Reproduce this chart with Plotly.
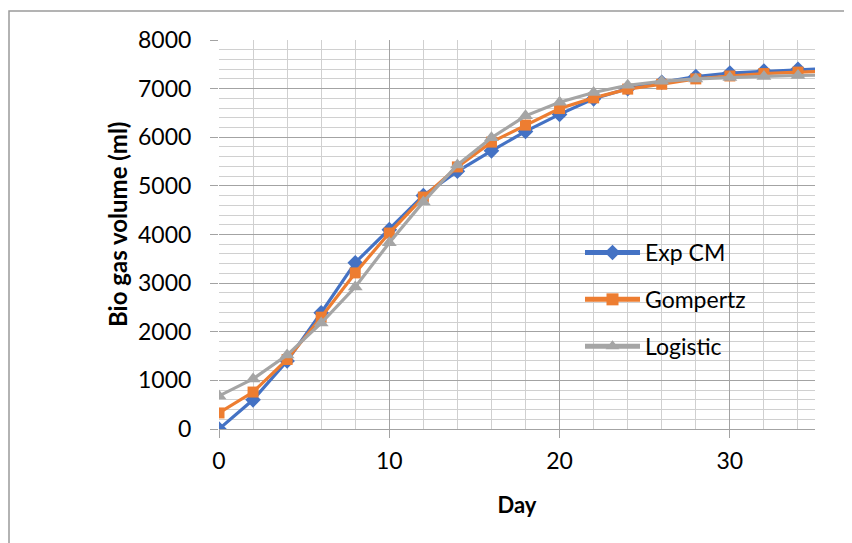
import plotly.graph_objects as go

days = [0, 2, 4, 6, 8, 10, 12, 14, 16, 18, 20, 22, 24, 26, 28, 30, 32, 34, 36]
exp_cm = [0, 600, 1400, 2390, 3420, 4100, 4800, 5300, 5720, 6120, 6470, 6790, 7000, 7130, 7250, 7320, 7360, 7400, 7420]
gompertz = [330, 760, 1430, 2300, 3210, 4030, 4770, 5390, 5900, 6250, 6590, 6810, 6990, 7090, 7200, 7260, 7310, 7340, 7360]
logistic = [680, 1030, 1520, 2180, 2920, 3830, 4670, 5430, 5990, 6440, 6720, 6920, 7070, 7150, 7200, 7230, 7250, 7270, 7280]

FONT = "Lato"
FS = 23

# plot area in figure pixels (page has an 8px body offset)
L, T, W, H = 211, 32, 596, 389
FIG_W, FIG_H = 852, 543

fig = go.Figure()
fig.add_trace(go.Scatter(x=days, y=exp_cm, name="Exp CM", mode="lines+markers", legendgroup="a",
                         line=dict(color="#4472C4", width=3.2),
                         marker=dict(symbol="diamond", size=12, color="#4472C4")))
fig.add_trace(go.Scatter(x=days, y=gompertz, name="Gompertz", mode="lines+markers", legendgroup="b",
                         line=dict(color="#ED7D31", width=3.2),
                         marker=dict(symbol="square", size=11, color="#ED7D31")))
fig.add_trace(go.Scatter(x=days, y=logistic, name="Logistic", mode="lines+markers", legendgroup="c",
                         line=dict(color="#A5A5A5", width=3.2),
                         marker=dict(symbol="triangle-up", size=13, color="#A5A5A5")))

fig.update_layout(
    width=FIG_W, height=FIG_H,
    margin=dict(l=L, r=FIG_W - L - W, t=T, b=FIG_H - T - H),
    paper_bgcolor="white", plot_bgcolor="white",
    font=dict(family=FONT, size=FS, color="black"),
    showlegend=True,
    legend=dict(x=(585 - 8 - L - 5) / W, y=1 - (245 - 8 - T - 14) / H, xanchor="left", yanchor="top",
                bgcolor="rgba(0,0,0,0)", font=dict(size=FS, family=FONT),
                itemwidth=55, tracegroupgap=14, itemsizing="constant"),
    shapes=[dict(type="rect", xref="paper", yref="paper",
                 x0=(1 - L) / W, x1=1.3, y0=-0.5, y1=1 + (T - 3) / H,
                 line=dict(color="#9a9a9a", width=1.5), fillcolor="rgba(0,0,0,0)", layer="below")],
    annotations=[dict(text="<b>Bio gas volume (ml)</b>", textangle=-90,
                      xref="paper", yref="paper",
                      x=(118 - 8 - L) / W, y=1 - (225 - 8 - T) / H,
                      xanchor="center", yanchor="middle", showarrow=False,
                      font=dict(size=24, family=FONT, color="black"))],
)

fig.update_xaxes(
    range=[0, 35], dtick=10, tick0=0,
    showgrid=True, gridcolor="#a3a3a3", gridwidth=1.3,
    minor=dict(dtick=2, showgrid=True, gridcolor="#d0d0d0", gridwidth=1.3, ticks=""),
    ticks="outside", ticklen=8, tickcolor="#a3a3a3", tickwidth=1.3,
    ticklabelstandoff=3,
    showline=True, linecolor="#a3a3a3", linewidth=1.3,
    zeroline=False,
    title=dict(text="<b>Day</b>", font=dict(size=22, family=FONT), standoff=24),
)
fig.update_yaxes(
    range=[0, 8000], dtick=1000, tick0=0,
    showgrid=True, gridcolor="#a3a3a3", gridwidth=1.3,
    minor=dict(dtick=200, showgrid=True, gridcolor="#d0d0d0", gridwidth=1.3, ticks=""),
    ticks="outside", ticklen=8, tickcolor="#a3a3a3", tickwidth=1.3,
    ticklabelstandoff=14,
    showline=False, zeroline=False,
)

fig.write_html("out.html")
